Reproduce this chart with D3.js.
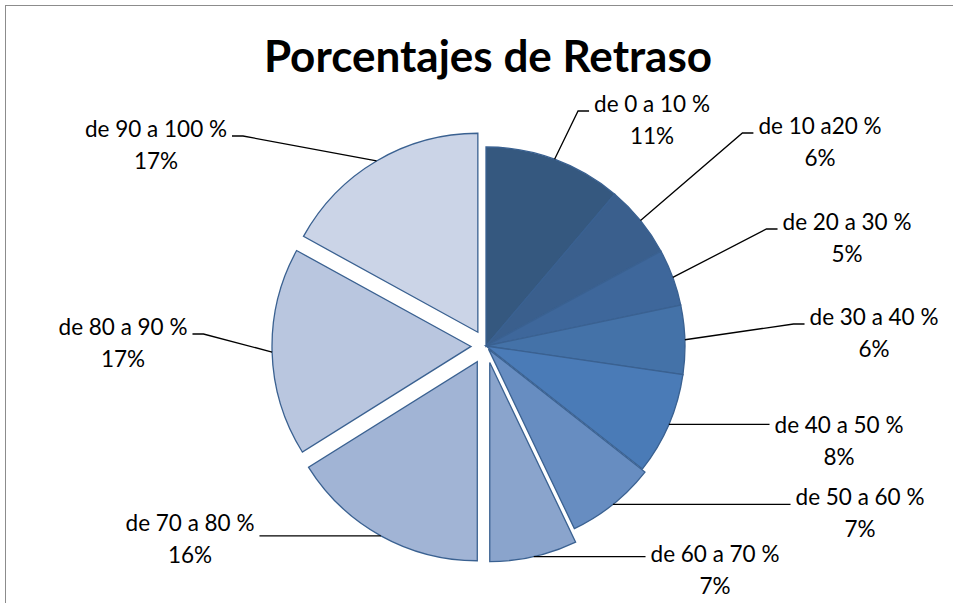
<!DOCTYPE html>
<html>
<head>
<meta charset="utf-8">
<script src="https://cdn.jsdelivr.net/npm/d3@7"></script>
<style>
  body { margin: 0; background: #fff; }
  text { font-family: Lato, "Open Sans", sans-serif; fill: #000; }
</style>
</head>
<body>
<div id="chart"></div>
<script>
// data
const categories = ["de 0 a 10 %", "de 10 a20 %", "de 20 a 30 %", "de 30 a 40 %", "de 40 a 50 %",
                    "de 50 a 60 %", "de 60 a 70 %", "de 70 a 80 %", "de 80 a 90 %", "de 90 a 100 %"];
const values = [11.2, 5.9, 4.6, 5.6, 8.3, 7.3, 7.1, 16.1, 16.9, 17.0];
const title = "Porcentajes de Retraso";

// styling / layout
const colors = ["#35587f", "#3a5f8d", "#3e679b", "#4472a8", "#4a7bb7",
                "#678dc1", "#8aa4cc", "#a1b4d5", "#b9c6df", "#cbd4e7"];
const explode = [0, 0, 0, 0, 0, 4, 17, 18, 15, 16];
const labelPos = [[652, 112], [820, 134], [847, 230], [874, 325], [839, 433],
                  [860, 505], [715, 562], [190, 531], [123, 335], [156, 137]];

const width = 953, height = 603;
const cx = 486, cy = 346, radius = 199;
const labelSize = 22.5;

const svg = d3.select("#chart").append("svg")
    .attr("width", width)
    .attr("height", height);

svg.append("rect")
    .attr("x", 5.5).attr("y", 5.5)
    .attr("width", width + 20).attr("height", height + 20)
    .attr("fill", "#fff")
    .attr("stroke", "#8c8c8c")
    .attr("stroke-width", 1);

svg.append("text")
    .attr("x", 488)
    .attr("y", 72)
    .attr("text-anchor", "middle")
    .attr("font-size", "44px")
    .attr("font-weight", "bold")
    .text(title);

const total = d3.sum(values);
const pie = d3.pie().sort(null).value(d => d);
const arcs = pie(values);
const arc = d3.arc().innerRadius(0).outerRadius(radius);

const g = svg.append("g").attr("transform", "translate(" + cx + "," + cy + ")");

function offset(d, i) {
    const mid = (d.startAngle + d.endAngle) / 2;
    return [Math.sin(mid) * explode[i], -Math.cos(mid) * explode[i]];
}

g.selectAll(".slice")
    .data(arcs)
    .enter().append("path")
    .attr("class", "slice")
    .attr("transform", (d, i) => "translate(" + offset(d, i) + ")")
    .attr("d", arc)
    .attr("fill", (d, i) => colors[i])
    .attr("stroke", "#3a6191")
    .attr("stroke-width", 1.3)
    .attr("stroke-linejoin", "miter");

// labels and leader lines
arcs.forEach(function(d, i) {
    const mid = (d.startAngle + d.endAngle) / 2;
    const off = offset(d, i);
    const px = cx + off[0] + Math.sin(mid) * radius;
    const py = cy + off[1] - Math.cos(mid) * radius;

    const lx = labelPos[i][0], ly = labelPos[i][1];
    const t1 = svg.append("text")
        .attr("x", lx).attr("y", ly)
        .attr("text-anchor", "middle")
        .attr("font-size", labelSize + "px")
        .text(categories[i]);
    svg.append("text")
        .attr("x", lx).attr("y", ly + 32)
        .attr("text-anchor", "middle")
        .attr("font-size", labelSize + "px")
        .text(Math.round(values[i] / total * 100) + "%");

    const w = t1.node().getComputedTextLength();
    const right = lx > cx;
    const edge = right ? lx - w / 2 - 5 : lx + w / 2 + 5;
    const elbow = right ? edge - 11 : edge + 11;
    let yy = ly - 1;
    if (Math.abs(py - yy) < 8) yy = py;

    svg.append("path")
        .attr("d", d3.line()([[px, py], [elbow, yy], [edge, yy]]))
        .attr("fill", "none")
        .attr("stroke", "#000")
        .attr("stroke-width", 1.3);
});
</script>
</body>
</html>
